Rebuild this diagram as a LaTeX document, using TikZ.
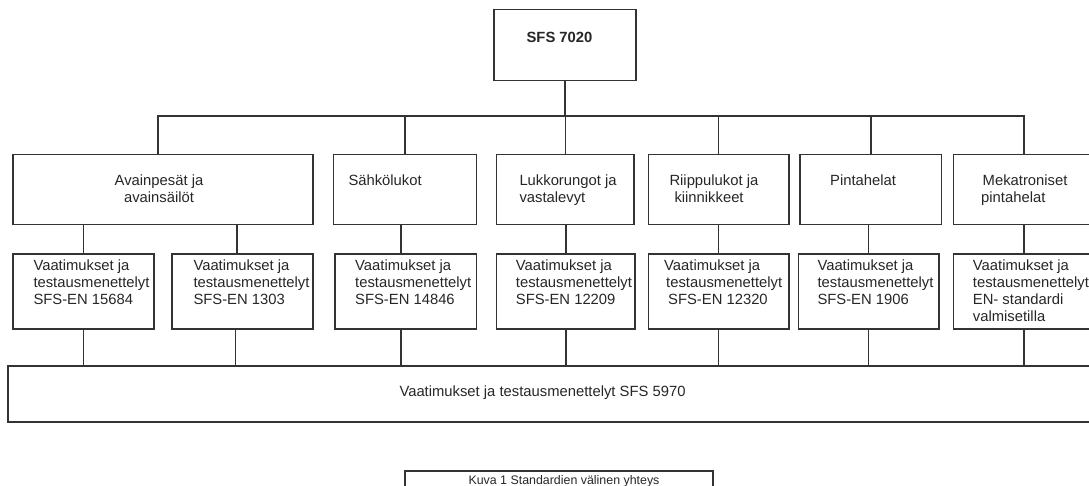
\documentclass[tikz,border=0pt]{standalone}
\usepackage{fontspec}
\setmainfont{Liberation Sans}

\begin{document}
\begin{tikzpicture}[x=1pt, y=-1pt,
                    every node/.style={inner sep=0pt, text=black!85, font=\fontsize{14.8}{17}\selectfont},
                    box/.style={rectangle, draw=black!80, line width=1.5pt},
                    lbl/.style={anchor=north west, align=left},
                    conn/.style={draw=black!80, line width=1.5pt}]

                    \useasboundingbox (0,0) rectangle (1089,486);
                    \clip (0,0) rectangle (1089,486);

                    % Define boxes
                    \node[box, minimum width=142pt, minimum height=71.4pt] (T) at (565,45) {}; % Root box
                    \node[box, minimum width=300pt, minimum height=70pt] (A) at (163,189.3) {}; % Level 1
                    \node[box, minimum width=143.4pt, minimum height=70pt] (S) at (405,189.3) {};
                    \node[box, minimum width=137.3pt, minimum height=70pt] (L) at (565.3,189.3) {};
                    \node[box, minimum width=140.7pt, minimum height=70pt] (R) at (718.7,189.3) {};
                    \node[box, minimum width=141.7pt, minimum height=70pt] (P) at (870.8,189.3) {};
                    \node[box, minimum width=141.7pt, minimum height=70pt] (M) at (1024.2,189.3) {};
                    \node[box, minimum width=141pt, minimum height=75pt] (B1) at (83.5,291.5) {}; % Level 2
                    \node[box, minimum width=141pt, minimum height=75pt] (B2) at (242.5,291.5) {};
                    \node[box, minimum width=141.7pt, minimum height=75pt] (B3) at (405.8,291.5) {};
                    \node[box, minimum width=138.3pt, minimum height=75pt] (B4) at (565.8,291.5) {};
                    \node[box, minimum width=140.7pt, minimum height=75pt] (B5) at (718.7,291.5) {};
                    \node[box, minimum width=140.7pt, minimum height=75pt] (B6) at (868.7,291.5) {};
                    \node[box, minimum width=141.7pt, minimum height=75pt] (B7) at (1024.2,291.5) {};
                    \node[box, minimum width=1092pt, minimum height=56pt] (V) at (553.8,394) {}; % Common standard
                    \node[box, minimum width=308pt, minimum height=39pt] (K) at (559,490.5) {}; % Caption

                    % Texts
                    \node[font=\fontsize{14.8}{17}\selectfont\bfseries] (tT) at (559.5,37) {SFS 7020};
                    \node[anchor=north, align=center] (tA) at (159,174.2) {Avainpesät ja\\avainsäilöt};
                    \node[lbl] (tS) at (348.3,174.2) {Sähkölukot};
                    \node[lbl] (tL) at (519.3,174.2) {Lukkorungot ja\\vastalevyt};
                    \node[lbl] (tR) at (669.3,174.2) {Riippulukot ja\\\hspace*{5pt}kiinnikkeet};
                    \node[lbl] (tP) at (830,174.2) {Pintahelat};
                    \node[lbl] (tM) at (981,174.2) {\hspace*{1.5pt}Mekatroniset\\pintahelat};
                    \node[lbl] (t1) at (33.3,259.7) {Vaatimukset ja\\testausmenettelyt\\SFS-EN 15684};
                    \node[lbl] (t2) at (193.3,259.7) {Vaatimukset ja\\testausmenettelyt\\SFS-EN 1303};
                    \node[lbl] (t3) at (355,259.7) {Vaatimukset ja\\testausmenettelyt\\SFS-EN 14846};
                    \node[lbl] (t4) at (515.7,259.7) {Vaatimukset ja\\testausmenettelyt\\SFS-EN 12209};
                    \node[lbl] (t5) at (664,259.7) {Vaatimukset ja\\\hspace*{2pt}testausmenettelyt\\\hspace*{4pt}SFS-EN 12320};
                    \node[lbl] (t6) at (817.3,259.7) {Vaatimukset ja\\testausmenettelyt\\SFS-EN 1906};
                    \node[lbl] (t7) at (972.7,259.7) {Vaatimukset ja\\testausmenettelyt\\EN- standardi\\valmisetilla};
                    \node (tV) at (542.5,393) {Vaatimukset ja testausmenettelyt SFS 5970};
                    \node[font=\fontsize{12.4}{14}\selectfont] (tK) at (564,481) {Kuva 1 Standardien välinen yhteys};

                    % Define connectors
                    \coordinate (bus) at (565,116);
                    \coordinate (a1) at ([xshift=-5pt]A.north);
                    \coordinate (c2) at ([xshift=-5.5pt]B2.north);
                    \coordinate (c3) at ([xshift=-5pt]B3.north);
                    \coordinate (d2) at ([xshift=-7pt]B2.south);
                    \coordinate (d3) at ([xshift=-5pt]B3.south);
                    \path[conn] (T.south) -- (bus);
                    \path[conn] (a1) |- (bus) -| (M.north);
                    \foreach \n in {S,L,R,P}
                        \path[conn] (\n.north) -- (\n.north |- bus);
                    \foreach \b/\a in {B1/A, B4/L, B5/R, B6/P, B7/M}
                        \path[conn] (\b.north) -- (\b.north |- \a.south);
                    \path[conn] (c2) -- (c2 |- A.south);
                    \path[conn] (c3) -- (c3 |- S.south);
                    \foreach \b in {B1,B4,B5,B6,B7}
                        \path[conn] (\b.south) -- (\b.south |- V.north);
                    \path[conn] (d2) -- (d2 |- V.north);
                    \path[conn] (d3) -- (d3 |- V.north);
                \end{tikzpicture}
\end{document}
